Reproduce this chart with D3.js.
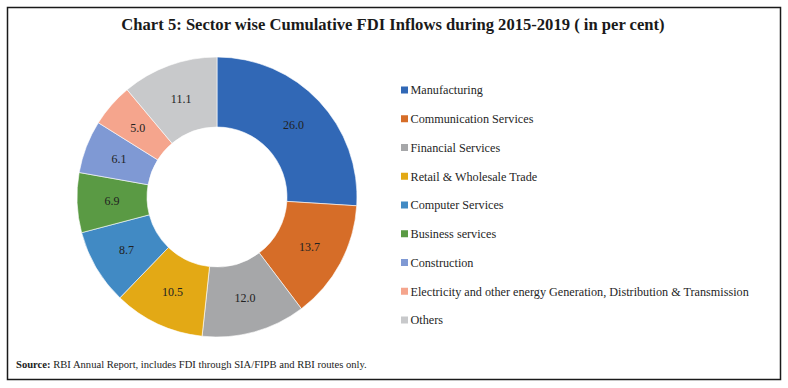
<!DOCTYPE html>
<html>
<head>
<meta charset="utf-8">
<script src="https://cdn.jsdelivr.net/npm/d3@7"></script>
<style>
  body { margin: 0; padding: 0; background: #fff; }
  text { font-family: "Liberation Serif", "Times New Roman", serif; }
  .title { font-size: 16.6px; font-weight: bold; fill: #1a1a1a; }
  .slice-label { font-size: 12px; fill: #222; }
  .legend-label { font-size: 12.2px; fill: #262626; }
  .source { font-size: 10.6px; fill: #222; }
</style>
</head>
<body>
<div id="chart"></div>
<script>
// chart data
var sectors = ["Manufacturing", "Communication Services", "Financial Services",
  "Retail & Wholesale Trade", "Computer Services", "Business services",
  "Construction", "Electricity and other energy Generation, Distribution & Transmission", "Others"];
var shares = [26.0, 13.7, 12.0, 10.5, 8.7, 6.9, 6.1, 5.0, 11.1];
var colours = ["#3168b6", "#d66d28", "#a6a7a9", "#e3a915", "#418ac4", "#5a9a44",
  "#7f99d4", "#f5a58d", "#c8c9cb"];

var width = 788, height = 388;

var svg = d3.select("#chart").append("svg")
    .attr("width", width)
    .attr("height", height);

// frame
svg.append("rect")
    .attr("x", 7.5).attr("y", 7.5)
    .attr("width", 773).attr("height", 372)
    .attr("fill", "none")
    .attr("stroke", "#1a1a1a")
    .attr("stroke-width", 1.5);

svg.append("text")
    .attr("class", "title")
    .attr("x", 393).attr("y", 30)
    .attr("text-anchor", "middle")
    .text("Chart 5: Sector wise Cumulative FDI Inflows during 2015-2019 ( in per cent)");

// donut
var cx = 217, cy = 197, outerR = 140, innerR = 70;

var pie = d3.pie().sort(null).value(function(d) { return d; });
var arc = d3.arc().innerRadius(innerR).outerRadius(outerR);
var labelArc = d3.arc().innerRadius((innerR + outerR) / 2).outerRadius((innerR + outerR) / 2);

var g = svg.append("g").attr("transform", "translate(" + cx + "," + cy + ")");

var arcs = pie(shares);

g.selectAll("path")
    .data(arcs)
    .enter().append("path")
    .attr("d", arc)
    .attr("fill", function(d, i) { return colours[i]; })
    .attr("stroke", "#fff")
    .attr("stroke-width", 0.6);

g.selectAll(".slice-label")
    .data(arcs)
    .enter().append("text")
    .attr("class", "slice-label")
    .attr("transform", function(d) { return "translate(" + labelArc.centroid(d) + ")"; })
    .attr("text-anchor", "middle")
    .attr("dy", "0.35em")
    .text(function(d) { return d.data.toFixed(1); });

// legend
var legendY = d3.scalePoint().domain(sectors).range([90, 320]);

var legend = svg.append("g").selectAll("g")
    .data(sectors)
    .enter().append("g")
    .attr("transform", function(d) { return "translate(401," + legendY(d) + ")"; });

legend.append("rect")
    .attr("x", 0).attr("y", -3.5)
    .attr("width", 7).attr("height", 7)
    .attr("fill", function(d, i) { return colours[i]; });

legend.append("text")
    .attr("class", "legend-label")
    .attr("x", 9.5)
    .attr("dy", "0.35em")
    .text(function(d) { return d; });

// source note
var src = svg.append("text")
    .attr("class", "source")
    .attr("x", 16).attr("y", 368);
src.append("tspan").attr("font-weight", "bold").text("Source:");
src.append("tspan").text(" RBI Annual Report, includes FDI through SIA/FIPB and RBI routes only.");
</script>
</body>
</html>
